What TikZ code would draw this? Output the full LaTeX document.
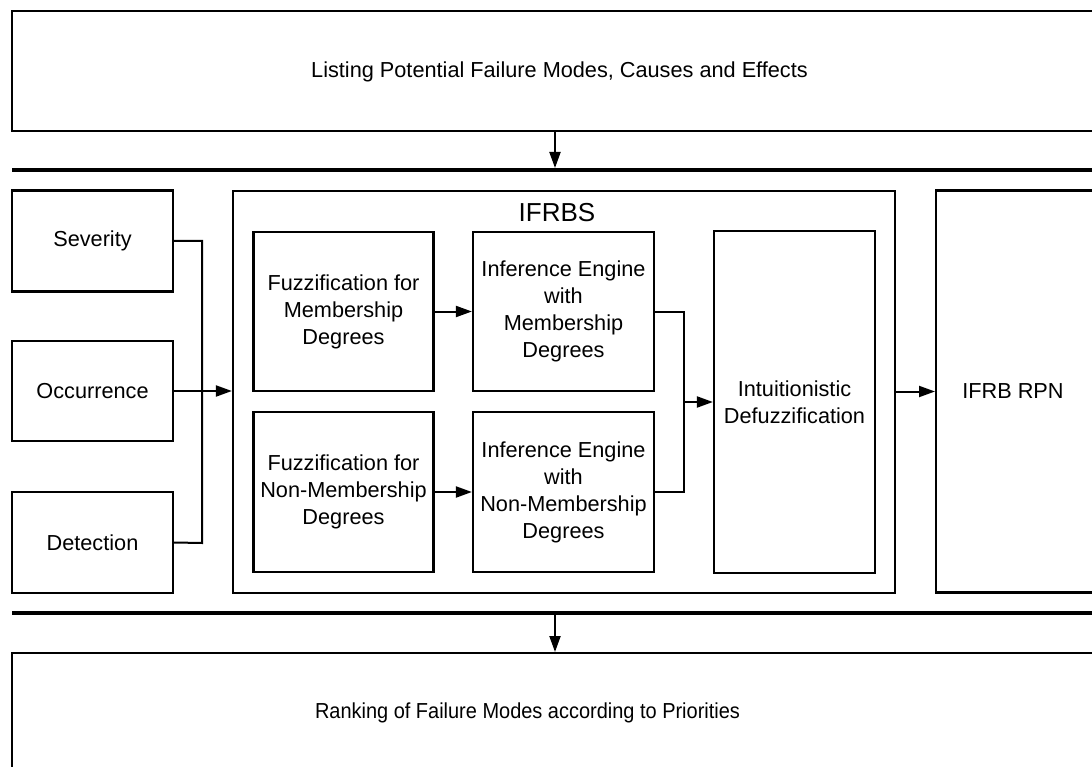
\documentclass[tikz,border=0pt]{standalone}
\usepackage{fontspec}
\setmainfont{Liberation Sans}
\newfontfamily\narrowsans[FakeStretch=0.92]{Liberation Sans}
\usetikzlibrary{arrows.meta}
\begin{document}
\begin{tikzpicture}[x=1pt,y=-1pt,
  box/.style={draw, line width=2.2pt, inner sep=0pt, align=center,
    font=\fontsize{21.7}{27}\selectfont},
  txt/.style={inner sep=0pt, align=center, font=\fontsize{21.7}{27}\selectfont},
  conn/.style={line width=2pt},
  arr/.style={conn, -{Triangle[length=16pt,width=11pt]}},
  sepline/.style={line width=4.5pt}]
\useasboundingbox (0,0) rectangle (1092,767);
\clip (0,0) rectangle (1092,767);

% top and bottom boxes
\draw[line width=2.2pt] (12,11) rectangle (1120,131);
\node[txt] (top) at (559.5,72) {Listing Potential Failure Modes, Causes and Effects};
\node[inner sep=0pt, minimum size=0pt] (topb) at (555,131) {};
\draw[line width=2.2pt] (1120,775) -- (12,775) -- (12,653) -- (1120,653);
\node[txt, font=\narrowsans\fontsize{21.7}{27}\selectfont] (bot) at (527.5,713) {Ranking of Failure Modes according to Priorities};

% separators
\draw[sepline] (12,170) coordinate (s1l) -- (1120,170);
\draw[sepline] (12,613) coordinate (s2l) -- (1120,613);
\coordinate (s1) at (555,168);
\coordinate (s2) at (555,615);
\coordinate (botb) at (555,652);
\draw[arr] (topb) -- (s1);
\draw[arr] (s2) -- (botb);

% left inputs
\node[box, minimum width=161pt, minimum height=101pt] (sev) at (92.5,241) {Severity};
\node[box, minimum width=161pt, minimum height=100pt] (occ) at (92.5,391) {Occurrence};
\node[box, minimum width=161pt, minimum height=101pt] (det) at (92.5,542.5) {Detection};

% IFRBS container
\node[box, minimum width=662pt, minimum height=402pt] (ifrbs) at (564,392) {};
\node[txt, font=\fontsize{26}{30}\selectfont] (title) at (557,213) {IFRBS};

\node[box, minimum width=180pt, minimum height=159pt] (fz1) at (343.5,311.5) {Fuzzification for\\Membership\\Degrees};
\node[box, minimum width=180pt, minimum height=160pt] (fz2) at (343.5,492) {Fuzzification for\\Non-Membership\\Degrees};
\node[box, minimum width=181pt, minimum height=159pt] (ie1) at (563.5,311.5) {Inference Engine\\with\\Membership\\Degrees};
\node[box, minimum width=181pt, minimum height=160pt] (ie2) at (563.5,492) {Inference Engine\\with\\Non-Membership\\Degrees};
\node[box, minimum width=161pt, minimum height=342pt] (dfz) at (794.5,402) {Intuitionistic\\Defuzzification};

\node[box, minimum width=170pt, minimum height=402pt, anchor=west] (rpn) at (935,391.5) {};
\node[txt] (rpnt) at (1013,391) {IFRB RPN};

% connectors
\coordinate (j1) at (202,241);
\coordinate (j2) at (202,543);
\draw[conn] (sev.east) -- (j1) -- (j2) -- (det.east);
\draw[arr] (occ.east) -- (ifrbs.west |- occ.east);
\draw[arr] (fz1.east) -- (ie1.west);
\draw[arr] (fz2.east) -- (ie2.west);
\coordinate (k1) at (684,311.5);
\coordinate (k2) at (684,492);
\coordinate (k3) at (684,402);
\draw[conn] (ie1.east) -- (k1) -- (k2) -- (ie2.east);
\draw[arr] (k3) -- (dfz.west);
\draw[arr] (ifrbs.east |- rpn.west) -- (rpn.west);
\end{tikzpicture}
\end{document}
